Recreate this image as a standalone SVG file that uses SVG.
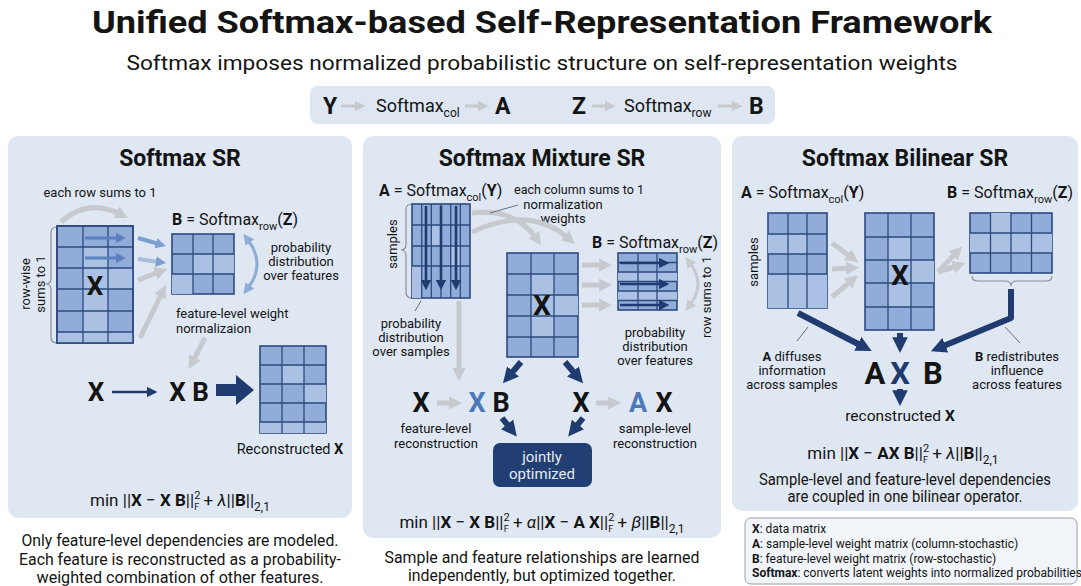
<svg xmlns="http://www.w3.org/2000/svg" width="1081" height="586" viewBox="0 0 1081 586">
  <style>
    text { font-family: Roboto, "Liberation Sans", sans-serif; fill: #141414; }
    .b { font-weight: 700; }
    .ttl { font-size: 23px; font-weight: 700; text-anchor: middle; }
    .lab { font-size: 13px; }
    .mid { text-anchor: middle; }
    .cap { font-size: 16.5px; text-anchor: middle; }
    .fx { font-size: 17px; text-anchor: middle; }
    .it { font-style: italic; }
    .eq { font-size: 16px; }
    .leg { font-size: 12px; }
    .panel { fill: #dfe7f2; }
    .mat { fill: #91acd8; stroke: #2c4a7d; stroke-width: 1.6; }
    .lc { fill: #aac1e4; }
    .grid { fill: none; stroke: #2c4a7d; stroke-width: 1.3; }
    .gray { fill: none; stroke: #c6cacf; stroke-width: 5; marker-end: url(#ah-gray); }
    .grayT { fill: none; stroke: #c6cacf; stroke-width: 3; }
    .navy { fill: none; stroke: #1f3b6f; stroke-width: 6; marker-end: url(#ah-navy); }
    .navyT { fill: none; stroke: #1f3b6f; stroke-width: 2.6; marker-end: url(#ah-navyS); }
    .lead { fill: none; stroke: #6a6f76; stroke-width: 1; }
    .brace { fill: none; stroke: #8a8f96; stroke-width: 1.2; }
  </style>
  <defs>
    <marker id="ah-navy" viewBox="0 0 10 10" refX="3" refY="5" markerWidth="2.6" markerHeight="2.8" orient="auto">
      <path d="M0,0 L10,5 L0,10 z" fill="#1f3b6f"/>
    </marker>
    <marker id="ah-navyS" viewBox="0 0 10 10" refX="3" refY="5" markerWidth="4" markerHeight="4" orient="auto">
      <path d="M0,0 L10,5 L0,10 z" fill="#1f3b6f"/>
    </marker>
    <marker id="ah-gray" viewBox="0 0 10 10" refX="3" refY="5" markerWidth="2.6" markerHeight="3" orient="auto">
      <path d="M0,0 L10,5 L0,10 z" fill="#c6cacf"/>
    </marker>
    <marker id="ah-grayS" viewBox="0 0 10 10" refX="3" refY="5" markerWidth="3.6" markerHeight="3.8" orient="auto-start-reverse">
      <path d="M0,0 L10,5 L0,10 z" fill="#c6cacf"/>
    </marker>
    <marker id="ah-blue" viewBox="0 0 10 10" refX="3" refY="5" markerWidth="2.6" markerHeight="3" orient="auto-start-reverse">
      <path d="M0,0 L10,5 L0,10 z" fill="#7c9fd3"/>
    </marker>
    <marker id="ah-blueS" viewBox="0 0 10 10" refX="3" refY="5" markerWidth="3.6" markerHeight="3.8" orient="auto-start-reverse">
      <path d="M0,0 L10,5 L0,10 z" fill="#8eabd6"/>
    </marker>
    <marker id="ah-inner" viewBox="0 0 10 10" refX="3" refY="5" markerWidth="3.4" markerHeight="3.4" orient="auto">
      <path d="M0,0 L10,5 L0,10 z" fill="#5a80bf"/>
    </marker>
  </defs>

  <rect width="1081" height="586" fill="#ffffff"/>

  <!-- header -->
  <g id="header">
    <text x="542" y="33" class="b mid" font-size="31" textLength="900" lengthAdjust="spacingAndGlyphs">Unified Softmax-based Self-Representation Framework</text>
    <text x="542" y="70" class="mid" font-size="21" textLength="831" lengthAdjust="spacingAndGlyphs">Softmax imposes normalized probabilistic structure on self-representation weights</text>
  </g>

  <g id="softmax-bar">
    <rect x="310" y="86" width="465" height="38" rx="8" fill="#dde6f1"/>
    <text x="323" y="114" class="b" font-size="23">Y</text>
    <text x="376" y="112" font-size="18">Softmax<tspan font-size="12" dy="5">col</tspan></text>
    <text x="495" y="114" class="b" font-size="23">A</text>
    <text x="572" y="114" class="b" font-size="23">Z</text>
    <text x="624" y="112" font-size="18">Softmax<tspan font-size="12" dy="5">row</tspan></text>
    <text x="749" y="114" class="b" font-size="23">B</text>
    <path d="M341,106 L358,106" class="grayT" marker-end="url(#ah-grayS)"/>
    <path d="M465,106 L481,106" class="grayT" marker-end="url(#ah-grayS)"/>
    <path d="M592,106 L608,106" class="grayT" marker-end="url(#ah-grayS)"/>
    <path d="M718,106 L735,106" class="grayT" marker-end="url(#ah-grayS)"/>
  </g>

  <!-- panel backgrounds -->
  <rect class="panel" x="8" y="136" width="344" height="382" rx="10"/>
  <rect class="panel" x="363" y="136" width="358" height="402" rx="10"/>
  <rect class="panel" x="732" y="136" width="346" height="375" rx="10"/>

  <!-- ===== Softmax SR ===== -->
  <g id="sr-title"><text x="180" y="166" class="ttl">Softmax SR</text></g>
  <g id="sr-rowsum-label"><text x="100" y="197" class="lab mid">each row sums to 1</text></g>
  <g id="sr-rowwise">
    <path class="brace" d="M57,227 Q51,227 51,233 L51,278 Q51,284 46,284 Q51,284 51,290 L51,337 Q51,343 57,343"/>
    <text transform="translate(0,284) rotate(-90)" class="lab mid"><tspan x="0" y="30">row-wise</tspan><tspan x="0" y="45">sums to 1</tspan></text>
  </g>
  <g id="sr-X">
    <rect class="mat" x="57" y="226" width="76" height="117"/>
    <rect class="lc" x="83" y="247" width="25" height="85"/>
    <rect class="lc" x="57" y="332" width="76" height="11"/>
    <rect class="lc" x="108" y="268" width="25" height="21"/>
    <path class="grid" d="M83,226 V343 M108,226 V343 M57,247 H133 M57,268 H133 M57,289 H133 M57,311 H133 M57,332 H133"/>
    <rect x="57" y="226" width="76" height="117" fill="none" stroke="#2c4a7d" stroke-width="1.6"/>
    <text x="95" y="295" class="b mid" font-size="26">X</text>
    <path d="M85,238 L119,238" fill="none" stroke="#5a80bf" stroke-width="3" marker-end="url(#ah-inner)"/>
    <path d="M85,258 L119,258" fill="none" stroke="#5a80bf" stroke-width="3" marker-end="url(#ah-inner)"/>
  </g>
  <g id="sr-B">
    <text x="172" y="225" class="eq"><tspan class="b">B</tspan> = Softmax<tspan font-size="11" dy="5">row</tspan><tspan dy="-5">(</tspan><tspan class="b">Z</tspan>)</text>
    <rect class="mat" x="172" y="234" width="62" height="60"/>
    <rect class="lc" x="193" y="254" width="41" height="20"/>
    <rect class="lc" x="172" y="274" width="21" height="20"/>
    <path class="grid" d="M193,234 V294 M213,234 V294 M172,254 H234 M172,274 H234"/>
    <text x="301" y="252" class="lab mid">probability</text>
    <text x="301" y="266" class="lab mid">distribution</text>
    <text x="301" y="280" class="lab mid">over features</text>
  </g>
  <g id="sr-norm-label">
    <text x="176" y="318" class="lab">feature-level weight</text>
    <text x="176" y="333" class="lab">normalizaion</text>
  </g>
  <g id="sr-product">
    <text x="96" y="401" class="b mid" font-size="26">X</text>
    <text x="189" y="401" class="b mid" font-size="26">X B</text>
  </g>
  <g id="sr-recon">
    <rect class="mat" x="260" y="346" width="66" height="87"/>
    <rect class="lc" x="282" y="365" width="22" height="19"/>
    <rect class="lc" x="304" y="384" width="22" height="19"/>
    <rect class="lc" x="260" y="422" width="66" height="11"/>
    <path class="grid" d="M282,346 V433 M304,346 V433 M260,365 H326 M260,384 H326 M260,403 H326 M260,422 H326"/>
    <text x="290" y="454" font-size="14.5" class="mid">Reconstructed <tspan class="b">X</tspan></text>
  </g>
  <g id="sr-objective">
    <text x="180" y="506" class="fx">min ||<tspan class="b">X</tspan> − <tspan class="b">X B</tspan>||<tspan font-size="11" dy="-7">2</tspan><tspan font-size="9" dx="-6" dy="11">F</tspan><tspan dy="-4"> + </tspan><tspan class="it">λ</tspan>||<tspan class="b">B</tspan>||<tspan font-size="12" dy="5">2,1</tspan></text>
  </g>
  <g id="sr-caption">
    <text x="180" y="546" class="cap" textLength="317" lengthAdjust="spacingAndGlyphs">Only feature-level dependencies are modeled.</text>
    <text x="180" y="565" class="cap" textLength="322" lengthAdjust="spacingAndGlyphs">Each feature is reconstructed as a probability-</text>
    <text x="180" y="583" class="cap" textLength="287" lengthAdjust="spacingAndGlyphs">weighted combination of other features.</text>
  </g>

  <!-- ===== Softmax Mixture SR ===== -->
  <g id="mix-title"><text x="542" y="166" class="ttl">Softmax Mixture SR</text></g>
  <g id="mix-A">
    <text x="379" y="196" class="eq"><tspan class="b">A</tspan> = Softmax<tspan font-size="11" dy="5">col</tspan><tspan dy="-5">(</tspan><tspan class="b">Y</tspan>)</text>
    <path class="brace" d="M412,204 Q406,204 406,210 L406,244 Q406,250 401,250 Q406,250 406,256 L406,292 Q406,298 412,298"/>
    <text transform="translate(0,244) rotate(-90)" class="lab mid"><tspan x="0" y="397">samples</tspan></text>
    <rect class="mat" x="412" y="204" width="58" height="94"/>
    <rect class="lc" x="431" y="225" width="10" height="21"/>
    <rect class="lc" x="450" y="246" width="10" height="20"/>
    <rect class="lc" x="412" y="266" width="10" height="32"/>
    <path class="grid" d="M421.7,204 V298 M431.3,204 V298 M441,204 V298 M450.7,204 V298 M460.3,204 V298 M412,225 H470 M412,246 H470 M412,266 H470"/>
    <path class="navyT" d="M426,206 L426,283"/>
    <path class="navyT" d="M441,206 L441,283"/>
    <path class="navyT" d="M456,206 L456,283"/>
    <text x="411" y="328" class="lab mid">probability</text>
    <text x="411" y="342" class="lab mid">distribution</text>
    <text x="411" y="356" class="lab mid">over samples</text>
  </g>
  <g id="mix-notes">
    <text x="514" y="194" class="lab" textLength="130" lengthAdjust="spacingAndGlyphs">each column sums to 1</text>
    <text x="563" y="209" class="lab mid">normalization</text>
    <text x="563" y="223" class="lab mid">weights</text>
  </g>
  <g id="mix-X">
    <rect class="mat" x="507" y="253" width="71" height="104"/>
    <rect class="lc" x="531" y="274" width="23" height="63"/>
    <rect class="lc" x="554" y="295" width="24" height="21"/>
    <path class="grid" d="M531,253 V357 M554,253 V357 M507,274 H578 M507,295 H578 M507,316 H578 M507,337 H578"/>
    <text x="542" y="315" class="b mid" font-size="28">X</text>
  </g>
  <g id="mix-B">
    <text x="592" y="248" class="eq"><tspan class="b">B</tspan> = Softmax<tspan font-size="11" dy="5">row</tspan><tspan dy="-5">(</tspan><tspan class="b">Z</tspan>)</text>
    <rect class="mat" x="618" y="253" width="59" height="57"/>
    <rect class="lc" x="618" y="272" width="59" height="9.5"/>
    <rect class="lc" x="618" y="291" width="59" height="9.5"/>
    <path class="grid" d="M638,253 V310 M657,253 V310 M618,262.5 H677 M618,272 H677 M618,281.5 H677 M618,291 H677 M618,300.5 H677"/>
    <path class="navyT" d="M620,263 L662,263"/>
    <path class="navyT" d="M620,284 L662,284"/>
    <path class="navyT" d="M620,305 L662,305"/>
    <text transform="translate(0,297) rotate(-90)" class="lab mid"><tspan x="0" y="711">row sums to 1</tspan></text>
    <text x="655" y="337" class="lab mid">probability</text>
    <text x="655" y="351" class="lab mid">distribution</text>
    <text x="655" y="365" class="lab mid">over features</text>
  </g>
  <g id="mix-feature-recon">
    <text x="421" y="412" class="b mid" font-size="27">X</text>
    <text x="477" y="412" class="b mid" font-size="27" style="fill:#4d78b8">X</text>
    <text x="501" y="412" class="b mid" font-size="27">B</text>
    <text x="436" y="433" class="lab mid">feature-level</text>
    <text x="436" y="448" class="lab mid">reconstruction</text>
  </g>
  <g id="mix-sample-recon">
    <text x="581" y="412" class="b mid" font-size="27">X</text>
    <text x="638" y="412" class="b mid" font-size="27" style="fill:#4d78b8">A</text>
    <text x="664" y="412" class="b mid" font-size="27">X</text>
    <text x="655" y="433" class="lab mid">sample-level</text>
    <text x="655" y="448" class="lab mid">reconstruction</text>
  </g>
  <g id="mix-joint">
    <rect x="493" y="443" width="99" height="44" rx="7" fill="#213f73"/>
    <text x="542" y="462" font-size="15" class="mid" style="fill:#e4ebf6">jointly</text>
    <text x="542" y="479" font-size="15" class="mid" style="fill:#e4ebf6">optimized</text>
  </g>
  <g id="mix-objective">
    <text x="542" y="528" class="fx">min ||<tspan class="b">X</tspan> − <tspan class="b">X B</tspan>||<tspan font-size="11" dy="-7">2</tspan><tspan font-size="9" dx="-6" dy="11">F</tspan><tspan dy="-4"> + </tspan><tspan class="it">α</tspan>||<tspan class="b">X</tspan> − <tspan class="b">A X</tspan>||<tspan font-size="11" dy="-7">2</tspan><tspan font-size="9" dx="-6" dy="11">F</tspan><tspan dy="-4"> + </tspan><tspan class="it">β</tspan>||<tspan class="b">B</tspan>||<tspan font-size="12" dy="5">2,1</tspan></text>
  </g>
  <g id="mix-caption">
    <text x="542" y="563" class="cap" textLength="315" lengthAdjust="spacingAndGlyphs">Sample and feature relationships are learned</text>
    <text x="542" y="581" class="cap" textLength="268" lengthAdjust="spacingAndGlyphs">independently, but optimized together.</text>
  </g>

  <!-- ===== Softmax Bilinear SR ===== -->
  <g id="bil-title"><text x="905" y="166" class="ttl">Softmax Bilinear SR</text></g>
  <g id="bil-A">
    <text x="741" y="198" class="eq"><tspan class="b">A</tspan> = Softmax<tspan font-size="11" dy="5">col</tspan><tspan dy="-5">(</tspan><tspan class="b">Y</tspan>)</text>
    <text transform="translate(0,262) rotate(-90)" class="lab mid"><tspan x="0" y="758">samples</tspan></text>
    <rect class="mat" x="768" y="213" width="59" height="95"/>
    <rect class="lc" x="768" y="234" width="20" height="20"/>
    <rect class="lc" x="788" y="234" width="19" height="20"/>
    <rect class="lc" x="768" y="274" width="59" height="34"/>
    <path class="grid" d="M788,213 V308 M807,213 V308 M768,234 H827 M768,254 H827 M768,274 H827"/>
    <text x="792" y="361" class="lab mid"><tspan class="b">A</tspan> diffuses</text>
    <text x="792" y="375" class="lab mid">information</text>
    <text x="792" y="389" class="lab mid">across samples</text>
  </g>
  <g id="bil-X">
    <rect class="mat" x="865" y="213" width="69" height="117"/>
    <rect class="lc" x="888" y="237" width="23" height="70"/>
    <rect class="lc" x="911" y="260" width="23" height="23"/>
    <path class="grid" d="M888,213 V330 M911,213 V330 M865,237 H934 M865,260 H934 M865,283 H934 M865,307 H934"/>
    <text x="900" y="285" class="b mid" font-size="28">X</text>
  </g>
  <g id="bil-B">
    <text x="947" y="198" class="eq"><tspan class="b">B</tspan> = Softmax<tspan font-size="11" dy="5">row</tspan><tspan dy="-5">(</tspan><tspan class="b">Z</tspan>)</text>
    <rect class="mat" x="970" y="213" width="82" height="60"/>
    <rect class="lc" x="970" y="233" width="82" height="20"/>
    <rect class="lc" x="990.5" y="213" width="20.5" height="20"/>
    <path class="grid" d="M990.5,213 V273 M1011,213 V273 M1031.5,213 V273 M970,233 H1052 M970,253 H1052"/>
    <path class="brace" d="M972,276 Q972,281 978,281 L1005,281 Q1011,281 1011,286 Q1011,281 1017,281 L1046,281 Q1052,281 1052,276"/>
    <text x="1017" y="361" class="lab mid"><tspan class="b">B</tspan> redistributes</text>
    <text x="1017" y="375" class="lab mid">influence</text>
    <text x="1017" y="389" class="lab mid">across features</text>
  </g>
  <g id="bil-product">
    <text x="875" y="384" class="b mid" font-size="31">A</text>
    <text x="900" y="384" class="b mid" font-size="31" style="fill:#1f3b6f">X</text>
    <text x="933" y="384" class="b mid" font-size="31">B</text>
    <text x="900" y="421" font-size="15.5" class="mid">reconstructed <tspan class="b">X</tspan></text>
  </g>
  <g id="bil-objective">
    <text x="903" y="459" class="fx">min ||<tspan class="b">X</tspan> − <tspan class="b">AX B</tspan>||<tspan font-size="11" dy="-7">2</tspan><tspan font-size="9" dx="-6" dy="11">F</tspan><tspan dy="-4"> + </tspan><tspan class="it">λ</tspan>||<tspan class="b">B</tspan>||<tspan font-size="12" dy="5">2,1</tspan></text>
  </g>
  <g id="bil-caption">
    <text x="905" y="485" font-size="16" class="mid" textLength="292" lengthAdjust="spacingAndGlyphs">Sample-level and feature-level dependencies</text>
    <text x="905" y="502" font-size="16" class="mid" textLength="235" lengthAdjust="spacingAndGlyphs">are coupled in one bilinear operator.</text>
  </g>

  <!-- legend -->
  <g id="legend">
    <rect x="745" y="518" width="332" height="66" rx="6" fill="#f1f4f8" stroke="#9aa1aa" stroke-width="1"/>
    <text x="752" y="533" class="leg"><tspan class="b">X</tspan>: data matrix</text>
    <text x="752" y="548" class="leg"><tspan class="b">A</tspan>: sample-level weight matrix (column-stochastic)</text>
    <text x="752" y="563" class="leg"><tspan class="b">B</tspan>: feature-level weight matrix (row-stochastic)</text>
    <text x="752" y="577" class="leg" font-size="11.4"><tspan class="b">Softmax</tspan>: converts latent weights into normalized probabilities</text>
  </g>

  <!-- connectors -->
  <g id="connectors">
    <!-- Softmax SR -->
    <path class="gray" stroke-width="4" d="M61,222 Q88,198 120,214"/>
    <path fill="none" stroke="#7c9fd3" stroke-width="4" marker-end="url(#ah-blue)" d="M138,238 L159,244"/>
    <path fill="none" stroke="#a9bcd8" stroke-width="4" marker-end="url(#ah-blue)" d="M138,259 L159,262"/>
    <path class="gray" stroke-width="4" d="M138,280 L159,272"/>
    <path class="gray" stroke-width="4" d="M140,338 L162,293"/>
    <path fill="none" stroke="#8eabd6" stroke-width="3" marker-start="url(#ah-blueS)" marker-end="url(#ah-blueS)" d="M248,240 Q266,264 248,288"/>
    <path class="gray" stroke-width="4" d="M205,338 L193,361"/>
    <path class="navyT" stroke-width="3" d="M112,392 L150,392"/>
    <polygon points="216,384 236,384 236,375 254,390 236,405 236,396 216,396" fill="#1f3b6f"/>

    <!-- Softmax Mixture SR -->
    <path class="gray" d="M472,213 Q515,208 536,238"/>
    <path class="gray" d="M472,232 Q530,205 568,238"/>
    <path class="lead" d="M490,213 L518,205"/>
    <path class="lead" d="M421,301 L415,311"/>
    <path class="gray" d="M459,301 L459,372"/>
    <path class="gray" d="M582,265 L603,265"/>
    <path class="gray" d="M582,285 L603,285"/>
    <path class="gray" d="M582,305 L603,305"/>
    <path class="grayT" marker-start="url(#ah-grayS)" marker-end="url(#ah-grayS)" d="M690,263 Q706,284 690,305"/>
    <path class="navy" stroke-width="5" d="M521,362 L510,375"/>
    <path class="navy" stroke-width="5" d="M565,362 L576,375"/>
    <path class="gray" d="M437,403 L453,403"/>
    <path class="gray" d="M596,403 L612,403"/>
    <path class="navy" stroke-width="5" d="M502,418 L510,428"/>
    <path class="navy" stroke-width="5" d="M583,418 L575,428"/>

    <!-- Softmax Bilinear SR -->
    <path class="gray" d="M832,243 L851,257"/>
    <path class="gray" d="M832,269 L850,268"/>
    <path class="gray" d="M832,297 L851,281"/>
    <path class="gray" d="M938,272 L956,253"/>
    <path class="gray" d="M938,272 L957,266"/>
    <path class="navy" d="M798,313 L862,346"/>
    <path class="navy" stroke-linejoin="round" d="M1011,289 L1011,318 L941,347"/>
    <path class="navy" d="M900,333 L900,342"/>
    <path class="navy" stroke-width="5" d="M900,389 L900,395"/>
    <path class="lead" d="M808,327 L797,341"/>
    <path class="lead" d="M1005,327 L1020,343"/>
  </g>
</svg>
